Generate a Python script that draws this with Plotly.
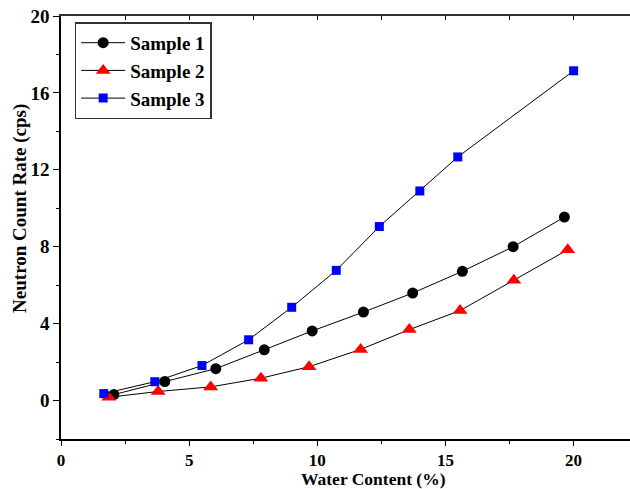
import plotly.graph_objects as go

# Data
s1_x = [2.06, 4.05, 6.04, 7.93, 9.80, 11.80, 13.72, 15.66, 17.64, 19.64]
s1_y = [0.31, 0.99, 1.66, 2.64, 3.62, 4.60, 5.59, 6.72, 8.00, 9.54]

s2_x = [1.86, 3.79, 5.84, 7.80, 9.68, 11.69, 13.59, 15.57, 17.67, 19.77]
s2_y = [0.17, 0.47, 0.71, 1.16, 1.76, 2.66, 3.69, 4.68, 6.26, 7.84]

s3_x = [1.67, 3.66, 5.50, 7.32, 9.00, 10.74, 12.42, 14.00, 15.48, 20.00]
s3_y = [0.36, 0.98, 1.82, 3.16, 4.85, 6.77, 9.05, 10.90, 12.67, 17.15]

names = ["Sample 1", "Sample 2", "Sample 3"]
x_ticks = [0, 5, 10, 15, 20]
y_ticks = [0, 4, 8, 12, 16, 20]

FONT = "Liberation Serif, Times New Roman, serif"

fig = go.Figure()
fig.add_trace(go.Scatter(x=s1_x, y=s1_y, mode="lines+markers", name=names[0],
                         line=dict(color="black", width=1),
                         marker=dict(symbol="circle", size=11, color="black", line=dict(width=0))))
fig.add_trace(go.Scatter(x=s2_x, y=s2_y, mode="lines+markers", name=names[1],
                         line=dict(color="black", width=1),
                         marker=dict(symbol="triangle-up", size=13, color="#ff0000", line=dict(width=0))))
fig.add_trace(go.Scatter(x=s3_x, y=s3_y, mode="lines+markers", name=names[2],
                         line=dict(color="black", width=1),
                         marker=dict(symbol="square", size=9, color="#0000ff", line=dict(width=0))))
# helper trace for the top axis
fig.add_trace(go.Scatter(x=[None], y=[None], xaxis="x2", showlegend=False, hoverinfo="skip"))

fig.update_layout(
    width=630, height=489,
    margin=dict(l=61, r=0, t=16, b=50),
    plot_bgcolor="white", paper_bgcolor="white",
    font=dict(family=FONT, size=19, color="black"),
    showlegend=True,
    legend=dict(x=0.024, y=0.985, xanchor="left", yanchor="top",
                bgcolor="white", bordercolor="#333333", borderwidth=1.5,
                font=dict(family=FONT, size=19, color="black", weight="bold"),
                tracegroupgap=0, itemwidth=44),
    xaxis=dict(range=[0, 22.2], tickvals=x_ticks, ticktext=[str(v) for v in x_ticks],
               showgrid=False, zeroline=False, showline=True, linecolor="black", linewidth=1.5,
               ticks="outside", ticklen=5, tickwidth=1.2, tickcolor="black",
               minor=dict(dtick=2.5, ticks="outside", ticklen=3, tickwidth=1, tickcolor="black", showgrid=False),
               tickfont=dict(family=FONT, size=17, weight="bold"),
               mirror=False),
    xaxis2=dict(range=[0, 22.2], overlaying="x", side="top", anchor="y",
                showgrid=False, zeroline=False, showline=True, linecolor="#333333", linewidth=1.5,
                showticklabels=False, ticks="inside", ticklen=4, tickwidth=1, tickcolor="black",
                dtick=2.5, tick0=0),
    yaxis=dict(range=[-2, 20], tickvals=y_ticks, ticktext=[str(v) for v in y_ticks],
               showgrid=False, zeroline=False, showline=True, linecolor="black", linewidth=1.5,
               ticks="outside", ticklen=6, tickwidth=1.2, tickcolor="black",
               minor=dict(dtick=2, ticks="outside", ticklen=3, tickwidth=1, tickcolor="black", showgrid=False),
               tickfont=dict(family=FONT, size=19, weight="bold")),
    annotations=[
        dict(text="<b>Water Content (%)</b>", xref="paper", yref="paper", x=0.55, y=-0.095,
             xanchor="center", yanchor="middle", showarrow=False,
             font=dict(family=FONT, size=17.5, color="black")),
        dict(text="<b>Neutron Count Rate (cps)</b>", xref="paper", yref="paper", x=-0.072, y=0.544,
             xanchor="center", yanchor="middle", showarrow=False, textangle=-90,
             font=dict(family=FONT, size=19, color="black")),
    ],
)

fig.write_html("out.html", config={"displayModeBar": False},
               post_script="document.body.style.margin='0px';document.body.style.padding='0px';document.body.style.overflow='hidden';")
